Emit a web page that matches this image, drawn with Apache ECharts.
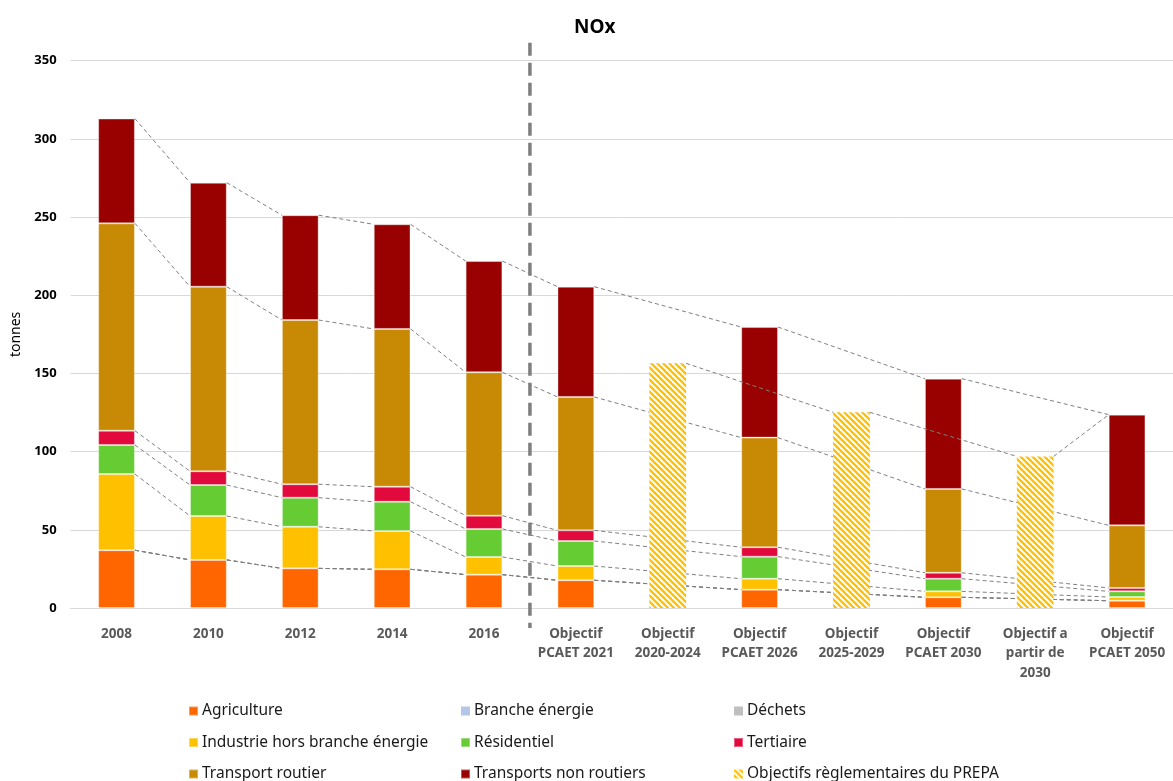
<!DOCTYPE html>
<html>
<head>
<meta charset="utf-8">
<script src="https://cdn.jsdelivr.net/npm/echarts@6/dist/echarts.min.js"></script>
<style>
  html, body { margin: 0; padding: 0; background: #fff; }
  #chart { width: 1173px; height: 781px; }
</style>
</head>
<body>
<div id="chart"></div>
<script>
// NOx emissions by sector (tonnes), historical inventory and PCAET / PREPA objectives
const categories = [
  '2008', '2010', '2012', '2014', '2016',
  'Objectif\nPCAET 2021', 'Objectif\n2020-2024', 'Objectif\nPCAET 2026',
  'Objectif\n2025-2029', 'Objectif\nPCAET 2030', 'Objectif a\npartir de\n2030',
  'Objectif\nPCAET 2050'
];
const agriculture           = [37.0, 30.8, 25.4, 24.8, 21.4, 17.8, null, 11.8, null, 6.9, null, 4.7];
const brancheEnergie        = [0, 0, 0, 0, 0, 0, null, 0, null, 0, null, 0];
const dechets               = [0, 0, 0, 0, 0, 0, null, 0, null, 0, null, 0];
const industrie             = [48.7, 28.1, 26.6, 24.5, 11.3, 9.1, null, 7.0, null, 3.8, null, 2.4];
const residentiel           = [18.6, 19.8, 18.6, 18.7, 17.9, 16.0, null, 14.1, null, 8.1, null, 3.6];
const tertiaire             = [9.1, 8.8, 8.6, 9.6, 8.5, 6.8, null, 6.0, null, 3.8, null, 2.2];
const transportRoutier      = [132.6, 118.0, 105.0, 100.9, 91.7, 85.3, null, 70.1, null, 53.6, null, 40.0];
const transportsNonRoutiers = [67.0, 66.5, 67.0, 66.9, 71.1, 70.5, null, 70.7, null, 70.5, null, 70.8];
const objectifsPrepa        = [null, null, null, null, null, null, 156.5, null, 125.2, null, 97.0, null];

const yMin = 0, yMax = 350, yStep = 50;

const FONT = '"Noto Sans", "Liberation Sans", sans-serif';
const BAR_RATIO = 0.4;

// stacked sectors, bottom to top
const sectors = [
  { name: 'Agriculture', data: agriculture, color: '#ff6600' },
  { name: 'Branche énergie', data: brancheEnergie, color: '#b4c7e7' },
  { name: 'Déchets', data: dechets, color: '#bfbfbf' },
  { name: 'Industrie hors branche énergie', data: industrie, color: '#ffc000' },
  { name: 'Résidentiel', data: residentiel, color: '#66cc33' },
  { name: 'Tertiaire', data: tertiaire, color: '#e20a3c' },
  { name: 'Transport routier', data: transportRoutier, color: '#c88a05' },
  { name: 'Transports non routiers', data: transportsNonRoutiers, color: '#990000' }
];

// diagonal yellow/white hatch used by the PREPA objective bars
function hatchPattern() {
  const c = document.createElement('canvas');
  c.width = 6; c.height = 6;
  const g = c.getContext('2d');
  g.fillStyle = '#ffffff';
  g.fillRect(0, 0, 6, 6);
  g.strokeStyle = '#ffc000';
  g.lineWidth = 2.3;
  for (let k = -6; k <= 6; k += 6) {
    g.beginPath();
    g.moveTo(k - 1, -1);
    g.lineTo(k + 7, 7);
    g.stroke();
  }
  return c;
}

// cumulative stack tops at each sector-bar category
const realIdx = categories.map((_, i) => i).filter(i => agriculture[i] != null);
const cumTops = sectors.map((_, s) => realIdx.map(i => {
  let sum = 0;
  for (let k = 0; k <= s; k++) sum += sectors[k].data[i] || 0;
  return sum;
}));

// connector segments: [fromCategory, fromValue, toCategory, toValue]
const connectors = [];
cumTops.forEach(tops => {
  for (let n = 0; n < realIdx.length - 1; n++) {
    connectors.push([realIdx[n], tops[n], realIdx[n + 1], tops[n + 1]]);
  }
});
const prepaIdx = categories.map((_, i) => i).filter(i => objectifsPrepa[i] != null);
for (let n = 0; n < prepaIdx.length - 1; n++) {
  connectors.push([prepaIdx[n], objectifsPrepa[prepaIdx[n]], prepaIdx[n + 1], objectifsPrepa[prepaIdx[n + 1]]]);
}
const lastPrepa = prepaIdx[prepaIdx.length - 1];
if (lastPrepa + 1 < categories.length && agriculture[lastPrepa + 1] != null) {
  const totals = cumTops[cumTops.length - 1];
  connectors.push([lastPrepa, objectifsPrepa[lastPrepa], lastPrepa + 1, totals[realIdx.indexOf(lastPrepa + 1)]]);
}

const chart = echarts.init(document.getElementById('chart'), null, { renderer: 'canvas' });

const barSeries = sectors.map(s => ({
  name: s.name,
  type: 'bar',
  stack: 'sectors',
  barWidth: (BAR_RATIO * 100) + '%',
  barGap: '-100%',
  data: s.data,
  z: 2,
  itemStyle: {
    color: s.color,
    borderColor: 'rgba(255,255,255,0.35)',
    borderWidth: (s.data.some(v => v)) ? 1 : 0
  },
  emphasis: { disabled: true }
}));

const prepaSeries = {
  name: 'Objectifs règlementaires du PREPA',
  type: 'bar',
  stack: 'prepa',
  barWidth: (BAR_RATIO * 100) + '%',
  barGap: '-100%',
  data: objectifsPrepa,
  z: 4,
  itemStyle: { color: { image: hatchPattern(), repeat: 'repeat' } },
  emphasis: { disabled: true }
};

const connectorSeries = {
  type: 'custom',
  z: 3,
  silent: true,
  encode: { x: [0, 2], y: [1, 3] },
  data: connectors,
  renderItem: function (params, api) {
    const a = api.coord([api.value(0), api.value(1)]);
    const b = api.coord([api.value(2), api.value(3)]);
    const half = api.size([1, 0])[0] * BAR_RATIO / 2;
    return {
      type: 'line',
      shape: { x1: a[0] + half, y1: a[1], x2: b[0] - half, y2: b[1] },
      style: { stroke: '#7f7f7f', lineWidth: 1, lineDash: [4, 3] }
    };
  }
};

// divider between the inventory years and the objectives
const dividerSeries = {
  type: 'custom',
  z: 5,
  silent: true,
  clip: false,
  encode: { x: [0, 1], y: [2, 3] },
  data: [[4, 5, yMin, yMax]],
  renderItem: function (params, api) {
    const left = api.coord([api.value(0), api.value(2)]);
    const right = api.coord([api.value(1), api.value(3)]);
    const x = (left[0] + right[0]) / 2;
    return {
      type: 'line',
      shape: { x1: x, y1: right[1] - 18, x2: x, y2: left[1] + 20 },
      style: { stroke: '#7f7f7f', lineWidth: 3.5, lineDash: [13, 7] }
    };
  }
};

function legendColumn(left, names) {
  return {
    orient: 'vertical',
    left: left,
    top: 703,
    height: 100,
    padding: 0,
    itemWidth: 9,
    itemHeight: 9,
    itemGap: 15.5,
    icon: 'rect',
    selectedMode: false,
    data: names,
    textStyle: { fontFamily: FONT, fontSize: 15.5, color: '#1a1a1a', lineHeight: 16, padding: [0, 0, 0, -1] }
  };
}

chart.setOption({
  animation: false,
  backgroundColor: '#fff',
  title: {
    text: 'NOx',
    left: 569,
    top: 13,
    textStyle: { fontFamily: FONT, fontSize: 19, fontWeight: 'bold', color: '#000' }
  },
  legend: [
    legendColumn(188, ['Agriculture', 'Industrie hors branche énergie', 'Transport routier']),
    legendColumn(460, ['Branche énergie', 'Résidentiel', 'Transports non routiers']),
    legendColumn(733, ['Déchets', 'Tertiaire', 'Objectifs règlementaires du PREPA'])
  ],
  grid: { left: 70.6, top: 60.7, width: 1106.4, height: 547.4, containLabel: false },
  xAxis: {
    type: 'category',
    data: categories,
    axisTick: { show: false },
    axisLine: { lineStyle: { color: '#d9d9d9', width: 1 } },
    axisLabel: {
      interval: 0,
      margin: 16,
      fontFamily: FONT,
      fontSize: 13.5,
      fontWeight: 'bold',
      color: '#595959',
      lineHeight: 19.5
    }
  },
  yAxis: {
    type: 'value',
    min: yMin,
    max: yMax,
    interval: yStep,
    name: 'tonnes',
    nameLocation: 'middle',
    nameGap: 46,
    nameTextStyle: { fontFamily: FONT, fontSize: 14, color: '#000' },
    axisLine: { show: false },
    axisTick: { show: false },
    splitLine: { lineStyle: { color: '#d9d9d9', width: 1 } },
    axisLabel: { margin: 14, fontFamily: FONT, fontSize: 13, fontWeight: 'bold', color: '#000' }
  },
  series: barSeries.concat([prepaSeries, connectorSeries, dividerSeries])
});
</script>
</body>
</html>
